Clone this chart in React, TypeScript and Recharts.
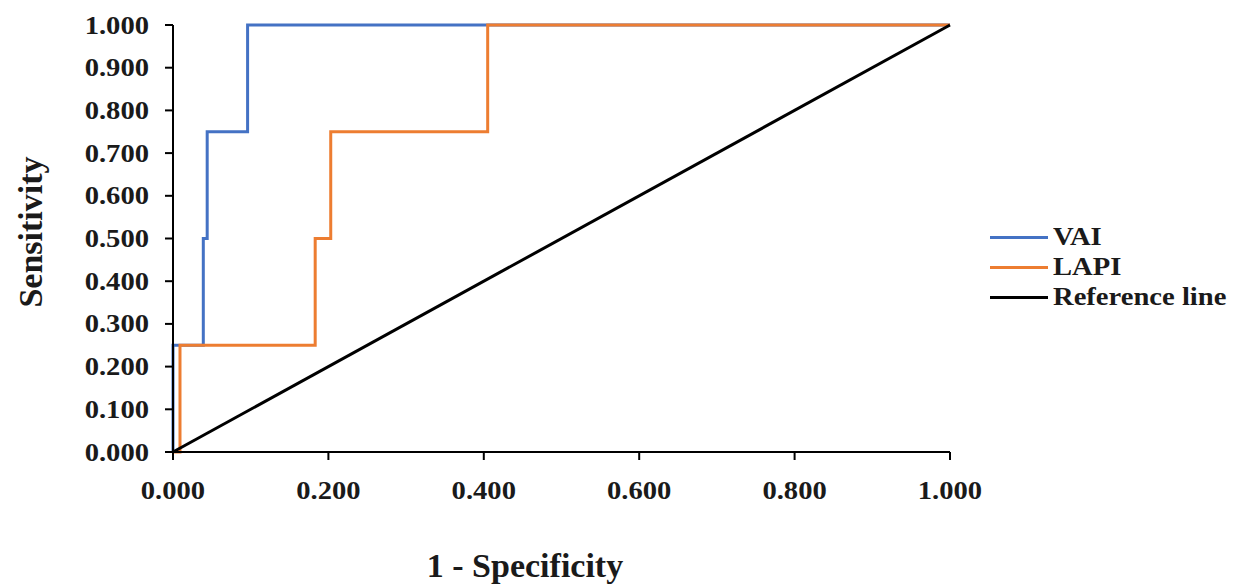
import React from 'react';
import { LineChart, Line, XAxis, YAxis } from 'recharts';

const vaiX = [0, 0, 0.039, 0.039, 0.044, 0.044, 0.096, 0.096, 1.0];
const vaiY = [0, 0.25, 0.25, 0.5, 0.5, 0.75, 0.75, 1.0, 1.0];
const lapiX = [0, 0.009, 0.009, 0.183, 0.183, 0.203, 0.203, 0.405, 0.405, 1.0];
const lapiY = [0, 0, 0.25, 0.25, 0.5, 0.5, 0.75, 0.75, 1.0, 1.0];
const refX = [0, 1];
const refY = [0, 1];
const xTicks = [0, 0.2, 0.4, 0.6, 0.8, 1.0];
const yTicks = [0, 0.1, 0.2, 0.3, 0.4, 0.5, 0.6, 0.7, 0.8, 0.9, 1.0];

const seriesNames = ['VAI', 'LAPI', 'Reference line'];
const seriesColors = ['#4472C4', '#ED7D31', '#000000'];

const toPts = (xs: number[], ys: number[]) => xs.map((x, i) => ({ x, y: ys[i] }));
const vaiData = toPts(vaiX, vaiY);
const lapiData = toPts(lapiX, lapiY);
const refData = toPts(refX, refY);

const FONT = '"Liberation Serif", "Times New Roman", serif';
const STRETCH = 1.1;

const YTick = (props: any) => {
  const { x, y, payload } = props;
  return (
    <text
      transform={`translate(${x - 14},${y}) scale(${STRETCH},1)`}
      textAnchor="end"
      dominantBaseline="central"
      fontFamily={FONT}
      fontWeight="bold"
      fontSize={26}
      fill="#1a1a1a"
    >
      {payload.value.toFixed(3)}
    </text>
  );
};

const XTick = (props: any) => {
  const { x, y, payload } = props;
  return (
    <text
      transform={`translate(${x},${y + 28}) scale(${STRETCH},1)`}
      textAnchor="middle"
      dominantBaseline="central"
      fontFamily={FONT}
      fontWeight="bold"
      fontSize={26}
      fill="#1a1a1a"
    >
      {payload.value.toFixed(3)}
    </text>
  );
};

const LegendBox = () => (
  <div style={{ position: 'absolute', left: 990, top: 222, fontFamily: FONT, fontWeight: 'bold', fontSize: 26, color: '#1a1a1a' }}>
    {seriesNames.map((n, i) => (
      <div key={n} style={{ display: 'flex', alignItems: 'center', height: 30, whiteSpace: 'nowrap' }}>
        <div style={{ width: 58, height: 3, background: seriesColors[i], marginRight: 5 }} />
        <span style={{ display: 'inline-block', transform: `scaleX(${STRETCH})`, transformOrigin: 'left center' }}>{n}</span>
      </div>
    ))}
  </div>
);

export default function App() {
  return (
    <div style={{ position: 'absolute', left: 0, top: 0, width: 1240, height: 587, background: '#fff' }}>
      <LineChart width={1240} height={587} margin={{ top: 25, right: 290, left: 0, bottom: 0 }}>
        <XAxis
          dataKey="x"
          type="number"
          domain={[0, 1]}
          ticks={xTicks}
          allowDuplicatedCategory={false}
          height={135}
          stroke="#000"
          strokeWidth={2}
          tickSize={8}
          tick={<XTick />}
          label={{
            content: () => (
              <text x={525} y={565} textAnchor="middle" dominantBaseline="central" fontFamily={FONT} fontWeight="bold" fontSize={34} fill="#1a1a1a">
                1 - Specificity
              </text>
            ),
          }}
        />
        <YAxis
          dataKey="y"
          type="number"
          domain={[0, 1]}
          ticks={yTicks}
          width={173}
          stroke="#000"
          strokeWidth={2}
          tickSize={8}
          tick={<YTick />}
          label={{
            content: () => (
              <text x={30} y={232} transform="rotate(-90 30 232)" textAnchor="middle" dominantBaseline="central" fontFamily={FONT} fontWeight="bold" fontSize={34} fill="#1a1a1a">
                Sensitivity
              </text>
            ),
          }}
        />
        <Line data={vaiData} dataKey="y" name="VAI" stroke={seriesColors[0]} strokeWidth={3} dot={false} isAnimationActive={false} type="linear" />
        <Line data={lapiData} dataKey="y" name="LAPI" stroke={seriesColors[1]} strokeWidth={3} dot={false} isAnimationActive={false} type="linear" />
        <Line data={refData} dataKey="y" name="Reference line" stroke={seriesColors[2]} strokeWidth={3} dot={false} isAnimationActive={false} type="linear" />
      </LineChart>
      <LegendBox />
    </div>
  );
}
